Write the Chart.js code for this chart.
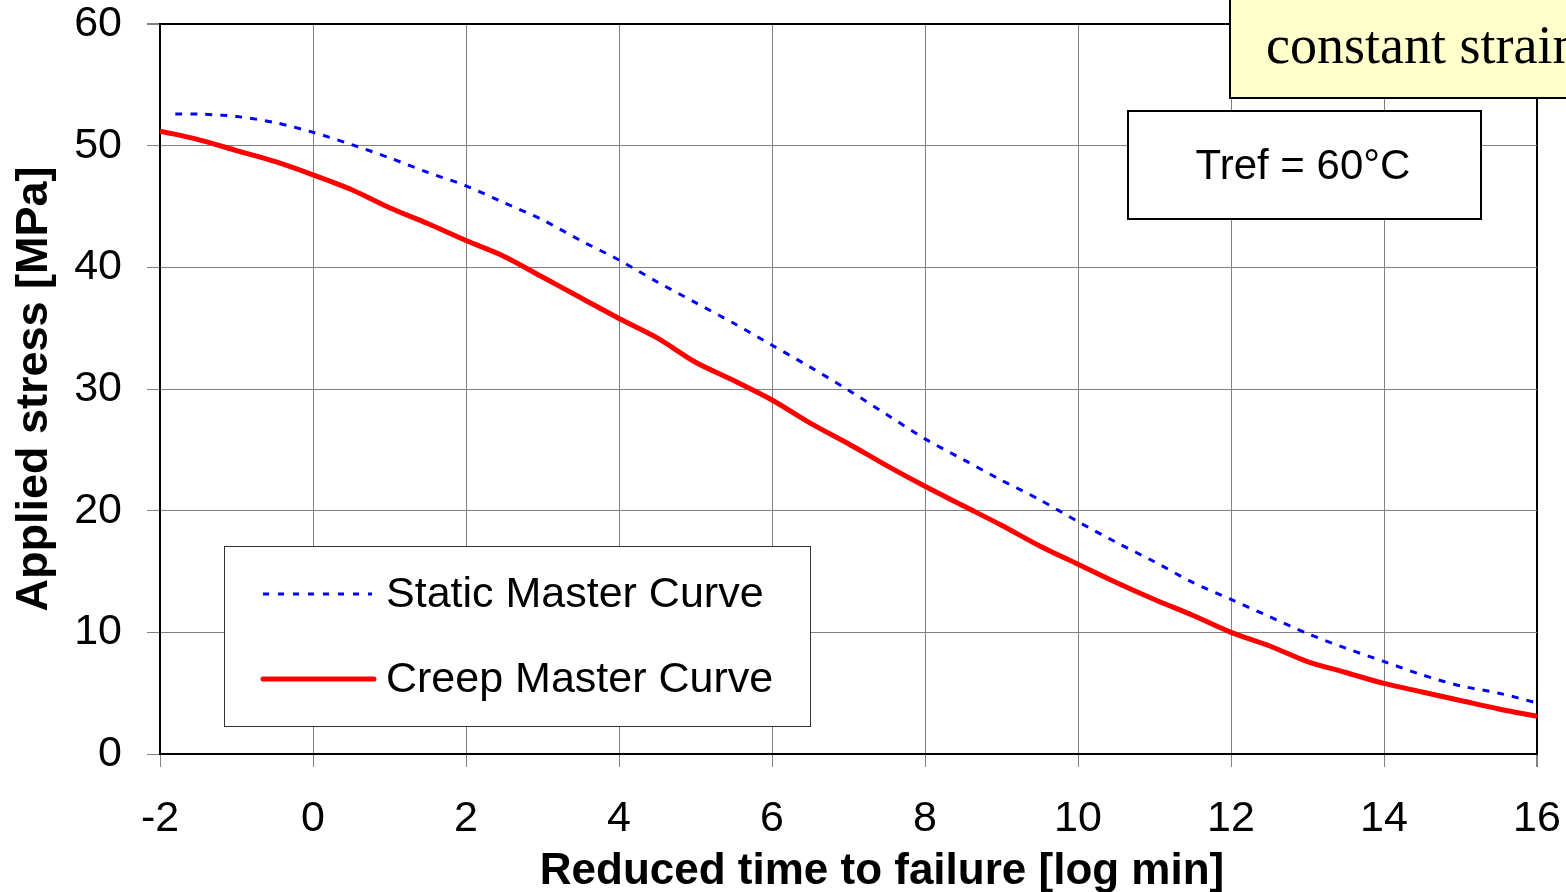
<!DOCTYPE html>
<html>
<head>
<meta charset="utf-8">
<script src="https://cdn.jsdelivr.net/npm/chart.js@4"></script>
<style>
  html, body { margin: 0; padding: 0; background: #fff; }
  #wrap { position: relative; width: 1566px; height: 892px; }
</style>
</head>
<body>
<div id="wrap"><canvas id="chart"></canvas></div>
<script>
// Master curves (stress in MPa vs log min)
const creepTime = [-2, -1.5, -1, -0.5, 0, 0.5, 1, 1.5, 2, 2.5, 3, 3.5, 4, 4.5, 5, 5.5, 6, 6.5, 7, 7.5,
  8, 8.5, 9, 9.5, 10, 10.5, 11, 11.5, 12, 12.5, 13, 13.5, 14, 14.5, 15, 15.5, 16];
const creepStress = [51.2, 50.5, 49.6, 48.7, 47.6, 46.4, 44.9, 43.6, 42.2, 40.9, 39.2, 37.5, 35.8, 34.2,
  32.2, 30.7, 29.1, 27.2, 25.5, 23.7, 22.0, 20.4, 18.8, 17.1, 15.6, 14.1, 12.7, 11.4, 10.0, 8.9, 7.6,
  6.7, 5.8, 5.1, 4.4, 3.7, 3.1];

const staticTime = [-1.8, -1.5, -1, -0.5, 0, 0.5, 1, 1.5, 2, 2.5, 3, 3.5, 4, 4.5, 5, 5.5, 6, 6.5, 7, 7.5,
  8, 8.5, 9, 9.5, 10, 10.5, 11, 11.5, 12, 12.5, 13, 13.5, 14, 14.5, 15, 15.5, 16];
const staticStress = [52.6, 52.6, 52.4, 51.9, 51.1, 50.1, 49.0, 47.8, 46.7, 45.3, 43.9, 42.2, 40.6, 38.8,
  37.1, 35.4, 33.6, 31.8, 29.9, 27.9, 25.9, 24.2, 22.5, 20.9, 19.1, 17.4, 15.8, 14.1, 12.7, 11.3, 9.9,
  8.7, 7.6, 6.5, 5.6, 5.0, 4.2];

const xTicks = [-2, 0, 2, 4, 6, 8, 10, 12, 14, 16];
const xTickLabels = ['-2', '0', '2', '4', '6', '8', '10', '12', '14', '16'];
const yTickLabels = ['0', '10', '20', '30', '40', '50', '60'];

const FONT = '"Liberation Sans", Arial, sans-serif';
const GRID = '#808080';

function toPoints(xs, ys) {
  return xs.map((x, i) => ({ x, y: ys[i] }));
}

// boxes, legend and x title are drawn by hand to get the Excel look
const boxesPlugin = {
  id: 'boxes',
  afterDraw(chart) {
    const ctx = chart.ctx;
    ctx.save();

    // x axis title sits a bit right of the plot centre in the original
    ctx.fillStyle = '#000';
    ctx.font = `bold 44px ${FONT}`;
    ctx.textAlign = 'center';
    ctx.textBaseline = 'alphabetic';
    ctx.fillText('Reduced time to failure [log min]', 882, 884);

    // legend
    ctx.fillStyle = '#fff';
    ctx.fillRect(224, 546, 586, 180);
    ctx.strokeStyle = '#333';
    ctx.lineWidth = 1;
    ctx.strokeRect(224.5, 546.5, 586, 180);

    const ds = chart.data.datasets;
    ctx.lineCap = 'butt';
    ctx.strokeStyle = ds[0].borderColor;
    ctx.lineWidth = 3;
    ctx.setLineDash([6, 9]);
    ctx.beginPath(); ctx.moveTo(263, 594); ctx.lineTo(372, 594); ctx.stroke();
    ctx.setLineDash([]);
    ctx.strokeStyle = ds[1].borderColor;
    ctx.lineWidth = 5;
    ctx.lineCap = 'round';
    ctx.beginPath(); ctx.moveTo(263, 679); ctx.lineTo(374, 679); ctx.stroke();

    ctx.fillStyle = '#000';
    ctx.font = `43px ${FONT}`;
    ctx.textAlign = 'left';
    ctx.fillText(ds[0].label, 386, 607);
    ctx.fillText(ds[1].label, 386, 692);

    // Tref box
    ctx.fillStyle = '#fff';
    ctx.fillRect(1128, 111, 353, 108);
    ctx.strokeStyle = '#000';
    ctx.lineWidth = 2;
    ctx.strokeRect(1128, 111, 353, 108);
    ctx.fillStyle = '#000';
    ctx.textAlign = 'center';
    ctx.font = `42px ${FONT}`;
    ctx.fillText('Tref = 60°C', 1303, 179);

    // yellow note, cut off at the right edge
    ctx.fillStyle = '#FFFFCC';
    ctx.fillRect(1230, -5, 400, 103);
    ctx.strokeRect(1230, -5, 400, 103);
    ctx.fillStyle = '#000';
    ctx.textAlign = 'left';
    ctx.font = '54px "Liberation Serif", "Times New Roman", serif';
    ctx.fillText('constant strain', 1266, 63);

    ctx.restore();
  },
};

new Chart(document.getElementById('chart'), {
  type: 'line',
  data: {
    datasets: [
      {
        label: 'Static Master Curve',
        data: toPoints(staticTime, staticStress),
        borderColor: '#0000FF',
        borderWidth: 3,
        borderDash: [7, 8],
        pointRadius: 0,
        tension: 0.3,
        fill: false,
      },
      {
        label: 'Creep Master Curve',
        data: toPoints(creepTime, creepStress),
        borderColor: '#FF0000',
        borderWidth: 5,
        pointRadius: 0,
        tension: 0.3,
        fill: false,
      },
    ],
  },
  options: {
    responsive: true,
    maintainAspectRatio: false,
    animation: false,
    layout: { padding: { top: 24, right: 29, left: 0, bottom: 0 } },
    plugins: {
      legend: { display: false },
      tooltip: { enabled: false },
    },
    scales: {
      x: {
        type: 'linear',
        min: -2,
        max: 16,
        // fixed size, and no extra room for overflowing labels
        afterFit: (s) => { s.height = 138; s.paddingLeft = 0; s.paddingRight = 0; },
        afterBuildTicks: (s) => { s.ticks = xTicks.map((v) => ({ value: v })); },
        grid: {
          color: (c) => (c.tick && c.tick.value === 16 ? '#000' : GRID),
          tickColor: GRID,
          tickLength: 13,
          lineWidth: (c) => (c.tick && c.tick.value === 16 ? 2 : 1),
        },
        border: { color: '#000', width: 2 },
        ticks: {
          color: '#000',
          padding: 31,
          maxRotation: 0,
          font: { family: FONT, size: 43, lineHeight: 1 },
          callback: (v) => xTickLabels[xTicks.indexOf(v)],
        },
      },
      y: {
        min: 0,
        max: 60,
        afterFit: (s) => { s.width = 160; s.paddingTop = 0; s.paddingBottom = 0; },
        grid: {
          color: (c) => (c.tick && c.tick.value === 60 ? '#000' : GRID),
          tickColor: GRID,
          tickLength: 13,
          lineWidth: (c) => (c.tick && c.tick.value === 60 ? 2 : 1),
        },
        border: { color: '#000', width: 2 },
        ticks: {
          stepSize: 10,
          color: '#000',
          padding: 25,
          font: { family: FONT, size: 43, lineHeight: 1 },
          callback: (v) => yTickLabels[v / 10],
        },
        title: {
          display: true,
          text: 'Applied stress [MPa]',
          color: '#000',
          font: { family: FONT, size: 45, weight: 'bold', lineHeight: 1 },
          padding: { top: 12, bottom: 0 },
        },
      },
    },
  },
  plugins: [boxesPlugin],
});
</script>
</body>
</html>
